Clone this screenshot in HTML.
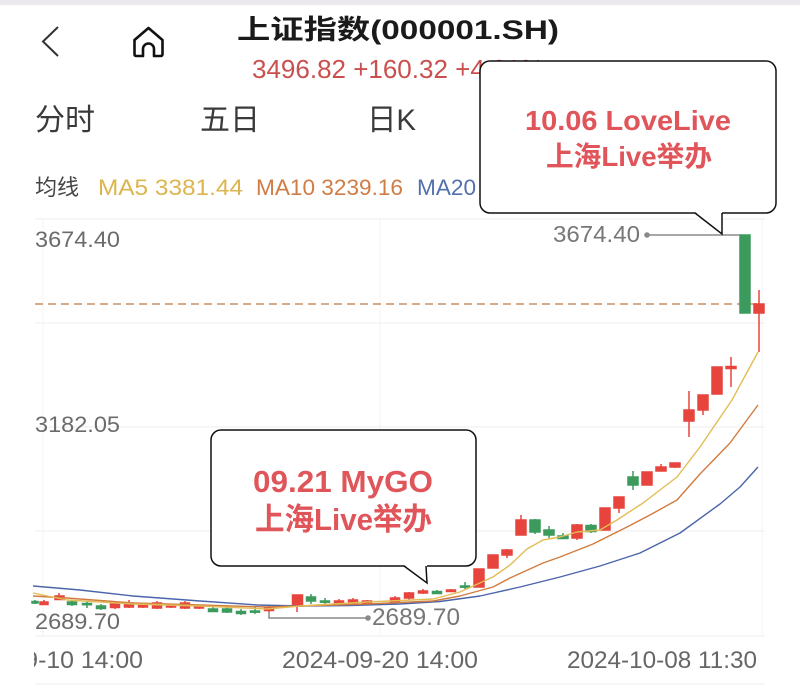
<!DOCTYPE html>
<html><head><meta charset="utf-8"><style>
html,body{margin:0;padding:0;background:#fff;}
svg{display:block;}
text{font-family:"Liberation Sans","Noto Sans CJK SC",sans-serif;}
</style></head><body>
<svg width="800" height="688" viewBox="0 0 800 688" xmlns="http://www.w3.org/2000/svg">
<rect x="0" y="0" width="800" height="688" fill="#fff"/>
<rect x="0" y="0" width="800" height="5" fill="#ebe8ee"/>
<!-- header icons -->
<polyline points="58,27 43,41.5 58,56" fill="none" stroke="#333" stroke-width="2"/>
<path d="M143,56 L136.5,56 Q134.5,56 134.5,54 L134.5,40 L148.5,28 L162.5,40 L162.5,54 Q162.5,56 160.5,56 L154,56 L154,49 A5.5,5.5 0 0 0 143,49 Z" fill="none" stroke="#111" stroke-width="2.6" stroke-linejoin="round"/>
<text x="237" y="39" font-size="27" font-weight="bold" fill="#1a1a1a" textLength="322" lengthAdjust="spacingAndGlyphs">上证指数(000001.SH)</text>
<text x="252" y="78" font-size="26" fill="#c9504f">3496.82 +160.32 +4.81%</text>
<!-- tabs -->
<text x="35" y="130" font-size="30" fill="#3a3a3a">分时</text>
<text x="200" y="130" font-size="30" fill="#3a3a3a">五日</text>
<text x="367" y="130" font-size="30" fill="#3a3a3a" textLength="49" lengthAdjust="spacingAndGlyphs">日K</text>
<!-- MA legend -->
<text x="35" y="195" font-size="22" fill="#444">均线</text>
<text x="98" y="195" font-size="22" fill="#dcb54e" textLength="145" lengthAdjust="spacingAndGlyphs">MA5 3381.44</text>
<text x="256" y="195" font-size="22" fill="#cf7c45" textLength="147" lengthAdjust="spacingAndGlyphs">MA10 3239.16</text>
<text x="417" y="195" font-size="22" fill="#5270ae" textLength="147" lengthAdjust="spacingAndGlyphs">MA20 3046.19</text>
<!-- grid -->
<g stroke="#ececec" stroke-width="1">
<line x1="35" y1="219" x2="765" y2="219"/>
<line x1="35" y1="323" x2="765" y2="323"/>
<line x1="35" y1="427" x2="765" y2="427"/>
<line x1="35" y1="531" x2="765" y2="531"/>
<line x1="35" y1="636" x2="765" y2="636"/>
<line x1="35" y1="684" x2="765" y2="684"/>
</g>
<g stroke="#f3f3f3" stroke-width="1">
<line x1="43" y1="219" x2="43" y2="636"/>
<line x1="380" y1="219" x2="380" y2="636"/>
<line x1="762" y1="219" x2="762" y2="636"/>
</g>
<!-- y labels -->
<text x="35" y="247" font-size="22" fill="#6b6b6b" textLength="85" lengthAdjust="spacingAndGlyphs">3674.40</text>
<text x="35" y="432" font-size="22" fill="#6b6b6b" textLength="85" lengthAdjust="spacingAndGlyphs">3182.05</text>
<text x="35" y="629" font-size="22" fill="#6b6b6b" textLength="85" lengthAdjust="spacingAndGlyphs">2689.70</text>
<!-- x labels -->
<clipPath id="cl"><rect x="34" y="640" width="760" height="40"/></clipPath>
<g clip-path="url(#cl)" font-size="24" fill="#666">
<text x="-53" y="668" textLength="196" lengthAdjust="spacingAndGlyphs">2024-09-10 14:00</text>
<text x="282" y="668" textLength="196" lengthAdjust="spacingAndGlyphs">2024-09-20 14:00</text>
<text x="567" y="668" textLength="190" lengthAdjust="spacingAndGlyphs">2024-10-08 11:30</text>
</g>
<!-- dashed current price -->
<line x1="35" y1="304" x2="757" y2="304" stroke="#c99060" stroke-width="1.5" stroke-dasharray="8,5"/>
<!-- candles -->
<g id="candles">
<g stroke="#3c9b5c" fill="#3c9b5c" stroke-width="1.5">
<line x1="35" y1="600" x2="35" y2="604"/><rect x="32" y="601.5" width="6" height="1.5"/>
<line x1="72" y1="600" x2="72" y2="606"/><rect x="67.5" y="602" width="9" height="2.5"/>
<line x1="87" y1="601" x2="87" y2="608"/><rect x="82.5" y="603.5" width="9" height="1.2"/>
<line x1="101" y1="604" x2="101" y2="610"/><rect x="96.5" y="606" width="9" height="2.5"/>
<line x1="213" y1="607" x2="213" y2="612"/><rect x="208.5" y="609" width="9" height="2.5"/>
<line x1="227" y1="607" x2="227" y2="613"/><rect x="222.5" y="609" width="9" height="3"/>
<line x1="241" y1="609" x2="241" y2="615"/><rect x="236.5" y="611.5" width="9" height="2"/>
<line x1="255" y1="607" x2="255" y2="614"/><rect x="250.5" y="611" width="9" height="1.2"/>
<line x1="311" y1="594" x2="311" y2="604"/><rect x="306.5" y="597" width="9" height="4"/>
<line x1="325" y1="598" x2="325" y2="604"/><rect x="320.5" y="601" width="9" height="1.2"/>
<line x1="437" y1="590" x2="437" y2="594"/><rect x="432.5" y="591.5" width="9" height="2"/>
<line x1="465" y1="582" x2="465" y2="589"/><rect x="460.5" y="586" width="9" height="1.2"/>
<line x1="535" y1="519" x2="535" y2="534"/><rect x="530" y="520" width="10" height="12"/>
<line x1="549" y1="526" x2="549" y2="538"/><rect x="544" y="530" width="10" height="5"/>
<line x1="563" y1="533" x2="563" y2="539"/><rect x="558" y="536" width="10" height="2.5"/>
<line x1="591" y1="524" x2="591" y2="533"/><rect x="586" y="525.5" width="10" height="6"/>
<line x1="633" y1="471" x2="633" y2="490"/><rect x="628" y="477" width="10" height="8"/>
<rect x="740" y="235" width="10" height="78"/>
</g>
<g stroke="#e6443d" fill="#e6443d" stroke-width="1.5">
<line x1="44" y1="600" x2="44" y2="605"/><rect x="40" y="602" width="8" height="2.5"/>
<line x1="59" y1="593" x2="59" y2="600"/><rect x="55" y="596" width="9" height="3.5"/>
<line x1="115" y1="602" x2="115" y2="609"/><rect x="110.5" y="604" width="9" height="3.5"/>
<line x1="129" y1="600" x2="129" y2="608"/><rect x="124.5" y="603" width="9" height="4"/>
<line x1="143" y1="604" x2="143" y2="608"/><rect x="138.5" y="605.5" width="9" height="1.5"/>
<line x1="157" y1="601" x2="157" y2="609"/><rect x="152.5" y="603" width="9" height="5"/>
<line x1="171" y1="604" x2="171" y2="608"/><rect x="166.5" y="605.5" width="9" height="1.5"/>
<line x1="185" y1="601" x2="185" y2="609"/><rect x="180.5" y="603" width="9" height="5"/>
<line x1="199" y1="605" x2="199" y2="609"/><rect x="194.5" y="606.5" width="9" height="1.5"/>
<line x1="269" y1="606" x2="269" y2="612"/><rect x="264.5" y="607.5" width="9" height="3"/>
<line x1="297" y1="595" x2="297" y2="612"/><rect x="292.5" y="595" width="10" height="11"/>
<line x1="339" y1="599" x2="339" y2="605"/><rect x="334.5" y="601" width="9" height="3"/>
<line x1="353" y1="598" x2="353" y2="606"/><rect x="348.5" y="600" width="9" height="3"/>
<line x1="367" y1="600" x2="367" y2="604"/><rect x="362.5" y="601" width="9" height="2"/>
<line x1="395" y1="596" x2="395" y2="604"/><rect x="390.5" y="598" width="9" height="4"/>
<line x1="409" y1="592" x2="409" y2="600"/><rect x="404.5" y="593" width="9" height="5"/>
<line x1="423" y1="589" x2="423" y2="594"/><rect x="418.5" y="591" width="9" height="2"/>
<line x1="451" y1="589" x2="451" y2="592"/><rect x="446.5" y="590" width="9" height="1.5"/>
<rect x="474" y="569" width="10" height="18"/>
<rect x="488" y="555" width="10" height="13"/>
<line x1="507" y1="549" x2="507" y2="558"/><rect x="502" y="550" width="10" height="5"/>
<line x1="521" y1="515" x2="521" y2="535"/><rect x="516" y="520" width="10" height="15"/>
<line x1="577" y1="524" x2="577" y2="540"/><rect x="572" y="525" width="10" height="13"/>
<rect x="600" y="508" width="10" height="22"/>
<line x1="619" y1="497" x2="619" y2="513"/><rect x="614" y="497" width="10" height="11"/>
<rect x="642" y="472" width="10" height="13"/>
<line x1="661" y1="464" x2="661" y2="471"/><rect x="656" y="467" width="10" height="4"/>
<line x1="675" y1="463" x2="675" y2="468"/><rect x="670" y="463" width="10" height="4"/>
<line x1="689" y1="391" x2="689" y2="437"/><rect x="684" y="410" width="10" height="11"/>
<line x1="703" y1="395" x2="703" y2="415"/><rect x="698" y="395" width="10" height="15"/>
<rect x="712" y="367" width="10" height="27"/>
<line x1="731" y1="357" x2="731" y2="387"/><rect x="726" y="366.5" width="10" height="2"/>
<line x1="759" y1="290" x2="759" y2="352"/><rect x="754" y="304" width="10" height="9"/>
</g>
</g>
<!-- MA lines -->
<polyline fill="none" stroke="#4a65aa" stroke-width="1.4" stroke-linejoin="round" points="33,586 80,590 133,596 200,601 257,605 300,606 350,605.5 400,604 440,601.5 480,596 520,587 560,577 600,566 640,553 680,533 720,504 740,487 758,467"/>
<polyline fill="none" stroke="#d27b3e" stroke-width="1.4" stroke-linejoin="round" points="33,596 67,598 133,603 200,605 267,607 300,606 367,604 433,601 460,596 493,587 510,578 543,563 560,557 593,544 627,527 650,515 677,500 700,474 730,443 758,405"/>
<polyline fill="none" stroke="#e2bc55" stroke-width="1.4" stroke-linejoin="round" points="33,593 67,600 133,604 200,606 267,609 300,606 367,602 433,599 460,592 493,577 510,565 527,549 543,540 560,537 577,532 600,530 617,520 643,503 677,477 700,447 732,400 758,352"/>
<!-- max marker -->
<line x1="647" y1="235" x2="740" y2="235" stroke="#8a8a8a" stroke-width="1.5"/>
<circle cx="647" cy="235" r="2.8" fill="#8a8a8a"/>
<text x="553" y="242" font-size="23" fill="#777" textLength="87" lengthAdjust="spacingAndGlyphs">3674.40</text>
<!-- min marker -->
<polyline points="269,612 269,618 368,618" fill="none" stroke="#8a8a8a" stroke-width="1.5"/>
<circle cx="368" cy="618" r="2.8" fill="#8a8a8a"/>
<text x="372" y="625" font-size="24" fill="#777" textLength="88" lengthAdjust="spacingAndGlyphs">2689.70</text>
<!-- upper callout -->
<rect x="480" y="61" width="296" height="152" rx="10" ry="10" fill="#fff" stroke="#111" stroke-width="1.5"/>
<polygon points="694,211 722,211 722,234" fill="#fff"/>
<polyline points="695,213 722,234 722,213" fill="none" stroke="#111" stroke-width="1.5"/>
<text x="525" y="130" font-size="28" font-weight="bold" fill="#e0555a" textLength="206" lengthAdjust="spacingAndGlyphs">10.06 LoveLive</text>
<text x="546" y="166" font-size="28" font-weight="bold" fill="#e0555a" textLength="166" lengthAdjust="spacingAndGlyphs">上海Live举办</text>
<!-- lower callout -->
<rect x="211" y="430" width="265" height="136" rx="10" ry="10" fill="#fff" stroke="#111" stroke-width="1.5"/>
<polygon points="403,564 427,564 427,583" fill="#fff"/>
<polyline points="404,566 427,583 426,566" fill="none" stroke="#111" stroke-width="1.5"/>
<text x="253" y="492" font-size="31" font-weight="bold" fill="#e0555a" textLength="180" lengthAdjust="spacingAndGlyphs">09.21 MyGO</text>
<text x="255" y="530" font-size="31" font-weight="bold" fill="#e0555a" textLength="177" lengthAdjust="spacingAndGlyphs">上海Live举办</text>
</svg>
</body></html>
